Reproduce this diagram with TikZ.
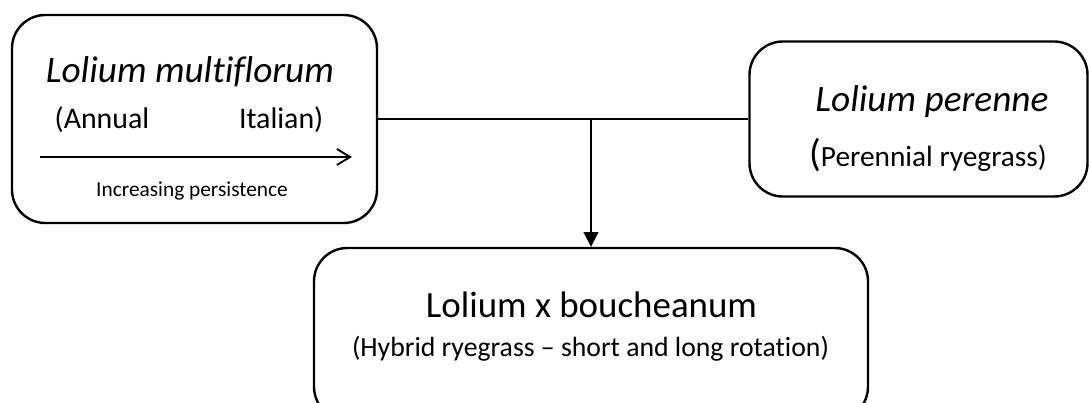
\documentclass[tikz,border=0pt]{standalone}
\usepackage{fontspec}
\setmainfont{Carlito}[Ligatures=NoCommon]
\usetikzlibrary{arrows.meta}

\begin{document}
\begin{tikzpicture}[x=0.75pt, y=0.75pt, >=Stealth,
    grassbox/.style={draw, line width=1.8pt, rounded corners=25pt, inner sep=0pt},
    link/.style={line width=1.4pt},
    title/.style={anchor=base, font=\fontsize{28}{33}\selectfont\itshape},
    sub/.style={anchor=base, font=\fontsize{22.4}{27}\selectfont}]
    \useasboundingbox (0,0) rectangle (1089,403);
    \clip (0,0) rectangle (1089,403);

    % Boxes
    \node (multi) [grassbox, minimum width=273.75pt, minimum height=156pt] at (194.5,284) {};
    \node (perenne) [grassbox, minimum width=253.5pt, minimum height=116.25pt, right of=multi, node distance=543pt] {};
    \node (bouch) [grassbox, minimum width=415.5pt, minimum height=129pt] at (591,69) {};

    % Texts
    \node (multiname) [title] at ([shift={(-4.5,36)}]multi.center) {Lolium multiflorum};
    \node (annual) [sub, anchor=base west] at ([shift={(-144.5,-10)}]multi.center) {(Annual};
    \node (italian) [sub, anchor=base east] at ([shift={(133.5,-10)}]multi.center) {Italian)};
    \coordinate (persstart) at ([shift={(-154.5,-38)}]multi.center);
    \coordinate (persend) at ([shift={(157.5,-38)}]multi.center);
    \node (persist) [anchor=base, font=\fontsize{16}{19}\selectfont] at ([shift={(-2.5,-78)}]multi.center) {Increasing persistence};

    \node (perennename) [title] at ([shift={(13.5,7.3)}]perenne.center) {Lolium perenne};
    \node (perennesub) [sub, font=\fontsize{22}{26}\selectfont] at ([shift={(9.5,-47.5)}]perenne.center) {{\fontsize{29}{33}\selectfont(}Perennial ryegrass)};

    \node (bouchname) [anchor=base, font=\fontsize{27.7}{33}\selectfont] at ([shift={(0.5,16)}]bouch.center) {Lolium x boucheanum};
    \node (bouchsub) [anchor=base, font=\fontsize{20.8}{25}\selectfont] at ([shift={(-0.5,-23)}]bouch.center) {(Hybrid ryegrass -- short and long rotation)};

    % Arrows
    \draw[line width=1.4pt, -{Straight Barb[length=10pt, width=12pt]}] (persstart) -- (persend);
    \draw[link] (multi.east) -- (perenne.west);
    \draw[link, -{Triangle[length=11pt, width=11pt]}] (multi.east -| bouch.north) -- (bouch.north);
\end{tikzpicture}
\end{document}
